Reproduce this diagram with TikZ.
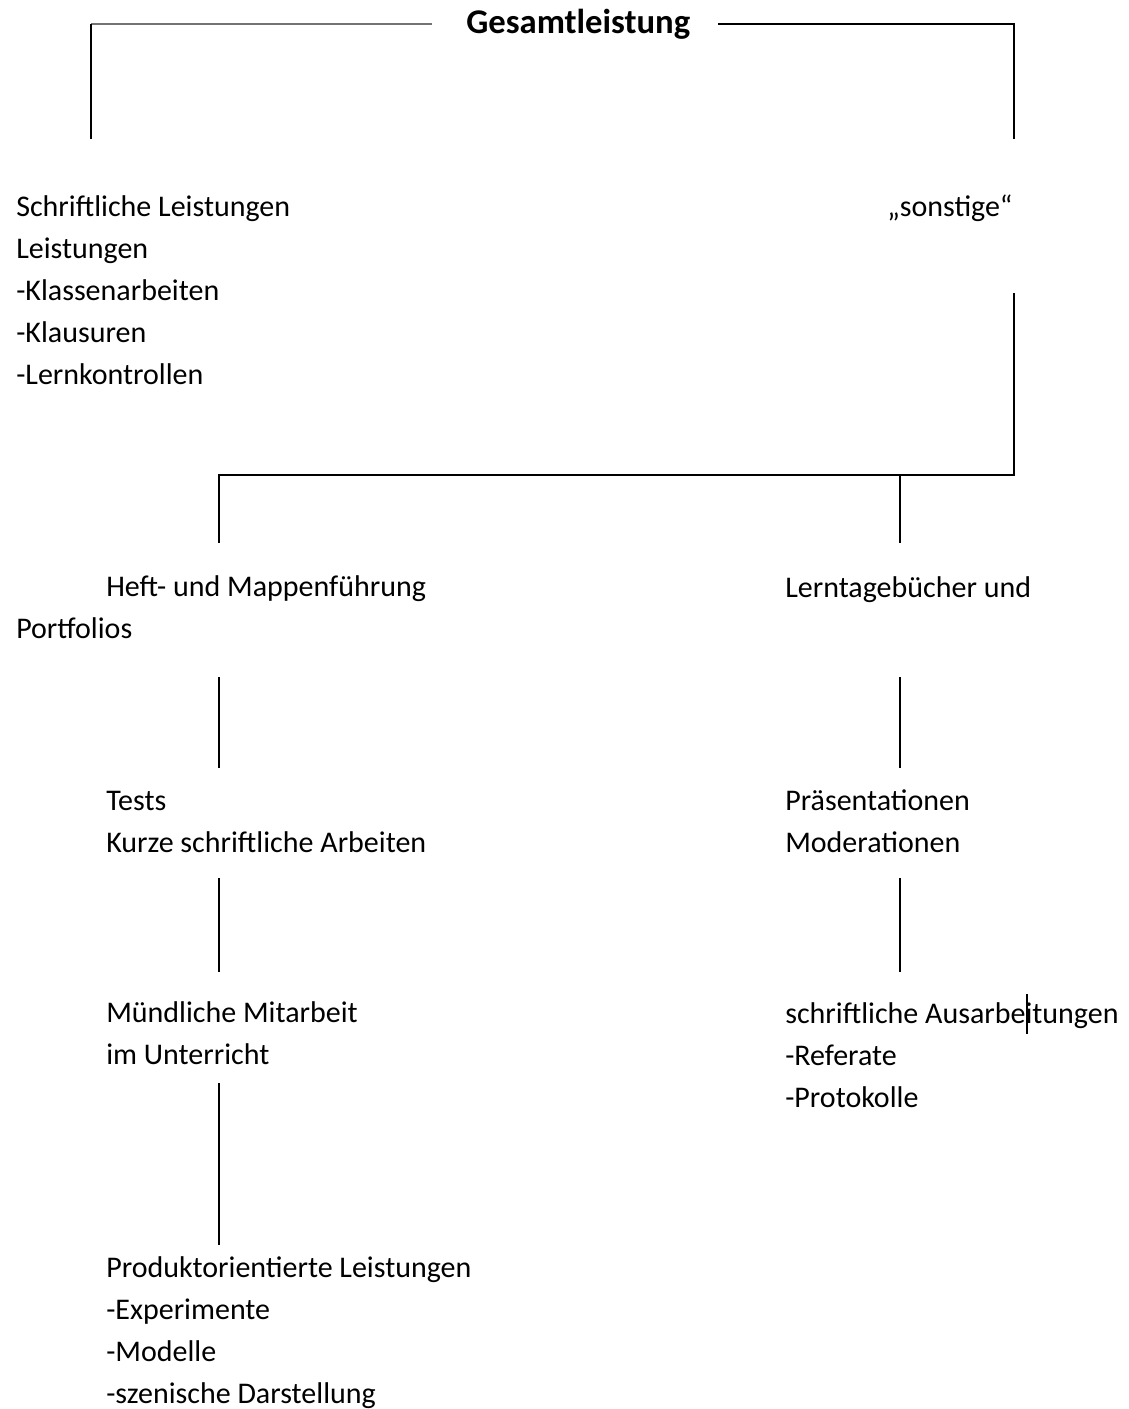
\documentclass[tikz,border=0pt]{standalone}
\usepackage{fontspec}
\setmainfont{Carlito}
\usetikzlibrary{positioning}
\tikzset{
  txt/.style={anchor=base west, inner sep=0pt, align=left, font=\fontsize{22.5}{31.4}\selectfont},
  bar/.style={line width=1.5}
}
\begin{document}
\begin{tikzpicture}[x=0.75pt,y=0.75pt,yscale=-1,xscale=1]
\useasboundingbox (0,0) rectangle (1128,1409);
% texts (anchored at the baseline of the last line)
\node[txt, font=\bfseries\fontsize{26}{31.4}\selectfont] (gesamt) at (466,34) {Gesamtleistung};
\node[txt] (schrift) at (16,384) {Schriftliche Leistungen\\Leistungen\\-Klassenarbeiten\\-Klausuren\\-Lernkontrollen};
\node[txt] (sonst) at (887,216) {„sonstige“};
\node[txt] (heft) at (16,638) {\hspace*{67.5pt}Heft- und Mappenführung\\Portfolios};
\node[txt] (lern) at (785,597) {Lerntagebücher und};
\node[txt] (tests) at (106,852) {Tests\\Kurze schriftliche Arbeiten};
\node[txt] (praes) at (785,852) {Präsentationen\\Moderationen};
\node[txt] (muend) at (106,1064) {Mündliche Mitarbeit\\im Unterricht};
\node[txt] (ausarb) at (785,1107) {schriftliche Ausarbeitungen\\-Referate\\-Protokolle};
\node[txt] (produkt) at (106,1403) {Produktorientierte Leistungen\\-Experimente\\-Modelle\\-szenische Darstellung};
% line ends
\coordinate (gl) at (432,24);
\coordinate (gr) at (718,24);
\coordinate (lc) at (91,24);
\coordinate (rc) at (1014,24);
\coordinate (lend) at (91,139);
\coordinate (rend) at (1014,139);
\coordinate (sup) at (1014,293);
\coordinate (hr) at (1014,475);
\coordinate (hl) at (219,475);
\coordinate (hm) at (900,475);
% connectors
\draw[bar, black!55] (gl) -- (lc);
\draw[bar] (lc) -- (lend);
\draw[bar] (gr) -- (rc) -- (rend);
\draw[bar] (sup) -- (hr) -- (hl) -- (219,543);
\draw[bar] (hm) -- (900,543);
\draw[bar] (219,677) -- (219,768);
\draw[bar] (900,677) -- (900,768);
\draw[bar] (219,878) -- (219,972);
\draw[bar] (900,878) -- (900,972);
\draw[bar] (219,1083) -- (219,1245);
% caret
\draw[line width=1.3] (1027,994) -- (1027,1034);
\end{tikzpicture}
\end{document}
